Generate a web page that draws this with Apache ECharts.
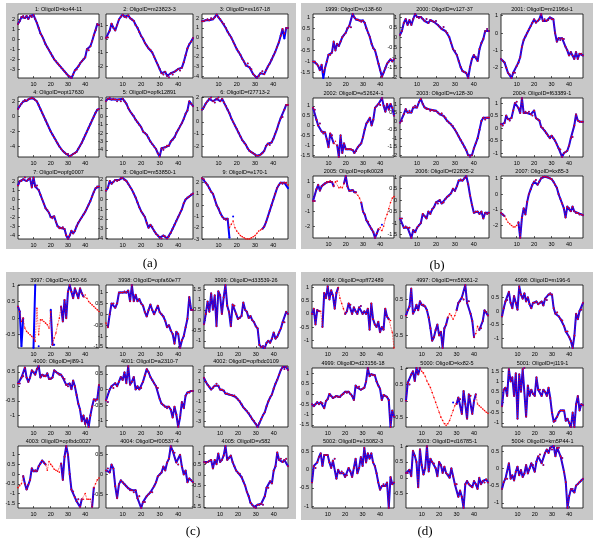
<!DOCTYPE html>
<html><head><meta charset="utf-8">
<script src="https://cdn.jsdelivr.net/npm/echarts@6/dist/echarts.min.js"></script>
<style>html,body{margin:0;padding:0;background:#fff}#c{width:600px;height:542px}</style>
</head><body><div id="c"></div>
<script>
// ---------- data ----------
const timePoints = [1,2,3,4,5,6,7,8,9,10,11,12,13,14,15,16,17,18,19,20,21,22,23,24,25,26,27,28,29,30,31,32,33,34,35,36,37,38,39,40,41,42,43,44,45,46,47,48];
const xTicks = [10,20,30,40];
const panelLabels = ['(a)','(b)','(c)','(d)'];

// panel (a)
const titlesA = ['1: OligoID=ko44-11','2: OligoID=m23823-3','3: OligoID=xs167-18','4: OligoID=opt17630','5: OligoID=opfk12891','6: OligoID=f27713-2','7: OligoID=opfg0007','8: OligoID=m53850-1','9: OligoID=e170-1'];
const a1 = [1.5,1.8,2.2,2.3,2.1,2.3,2.0,2.3,2.2,2.4, 2.0,1.6,1.1,0.6,0.3,-0.1,-0.5,-0.8,-1.1,-1.4, -1.7,-2.0,-2.2,-2.4,-2.6,-2.8,-3.0,-3.2,-3.4,-3.6, -3.7,-3.85,-3.5,-3.1,-3.0,-2.7,-2.4,-2.2,-2.0,-1.8, -1.0,-1.1,-0.7,-0.2,0.4,0.9,1.5,1.4];
const a2 = [0.05,0.1,0.6,1.1,0.8,0.6,1.0,1.4,1.6,1.75, 1.6,1.55,1.7,1.5,1.4,1.3,1.0,0.8,0.5,0.2, 0.0,-0.3,-0.5,-0.7,-0.8,-1.0,-1.3,-1.6,-1.9,-2.2, -2.5,-2.6,-2.4,-2.7,-2.8,-2.5,-2.6,-2.4,-2.3,-2.2, -2.3,-2.1,-1.7,-1.2,-0.7,-0.4,-0.2,0.05];
const a3 = [1.7,1.7,1.8,1.9,1.8,2.0,1.9,2.1,2.4,2.1, 1.9,1.6,1.4,1.0,0.6,0.3,0.0,-0.4,-0.8,-1.2, -1.5,-1.8,-2.2,-2.5,-2.9,-2.7,-3.1,-3.3,-3.8,-4.0, -4.2,-4.0,-3.7,-3.5,-3.8,-3.4,-3.0,-2.7,-2.3,-1.9, -1.5,-1.0,-0.5,0.2,0.9,0.4,1.0,1.0];
const a4 = [1.0,1.4,1.7,2.0,2.2,2.1,2.3,2.4,2.5,2.4, 2.2,2.0,1.5,1.0,0.5,0.0,-0.5,-1.0,-1.5,-2.0, -2.4,-2.8,-3.2,-3.6,-4.0,-4.3,-4.6,-4.8,-5.0,-5.0, -5.3,-5.2,-5.0,-4.9,-4.7,-4.3,-3.9,-3.5,-3.0,-2.5, -2.0,-1.5,-1.0,-0.5,0.0,0.5,0.9,1.0];
const a5 = [1.8,2.1,2.2,2.0,2.1,2.0,1.8,2.0,1.8,2.1, 1.8,1.5,1.0,0.6,0.3,0.0,-0.4,-0.7,-1.0,-1.3, -1.8,-2.0,-2.2,-2.6,-3.0,-3.3,-3.6,-3.9,-4.4,-4.8, -3.8,-4.0,-3.7,-3.5,-3.5,-3.0,-2.8,-2.5,-2.0,-1.6, -1.2,-0.8,-0.3,0.3,0.7,1.8,1.5,1.2];
const a6 = [1.0,1.2,1.5,1.7,1.9,2.0,1.7,1.6,1.9,2.0, 1.7,1.9,1.6,1.3,1.0,0.7,0.3,0.0,-0.3,-0.6, -0.9,-1.2,-1.5,-1.7,-1.9,-2.2,-2.4,-2.5,-2.6,-2.7, -2.8,-2.8,-2.7,-2.6,-2.4,-2.0,-1.8,-1.9,-1.7,-1.4, -1.0,-0.6,-0.1,0.3,0.4,1.0,1.4,1.4];
const a7 = [1.5,2.0,2.0,2.2,2.4,2.0,2.2,2.3,1.3,2.4, 1.4,1.5,1.0,0.5,0.0,-0.5,-1.0,-1.2,-1.5,-2.0, -2.1,-1.9,-2.5,-3.0,-3.2,-3.2,-3.1,-3.3,-4.0,-4.4, -4.0,-3.5,-3.8,-3.5,-3.0,-2.6,-2.3,-2.0,-1.7,-1.4, -1.0,-0.6,-0.2,0.3,0.8,1.2,1.4,1.4];
const a8 = [0.9,1.2,1.9,1.6,1.8,2.0,1.9,2.0,2.2,2.2, 2.0,1.9,1.6,1.3,1.0,0.6,0.2,-0.3,-0.8,-1.2, -1.5,-1.8,-2.4,-2.9,-2.6,-2.8,-3.2,-3.5,-3.7,-3.9, -4.0,-3.7,-3.8,-4.0,-3.8,-3.4,-3.0,-2.6,-2.2,-1.8, -1.4,-1.0,-0.4,0.0,0.2,0.3,0.5,0.6];
const a9 = [2.4,2.3,2.0,1.8,1.5,1.2,1.0,0.5,0.0,-0.3, -0.7,-1.0,-1.2,-1.3,-1.2,-2.0,-1.7,-1.4,-2.0,-2.3, -2.5,-2.7,-2.8,-2.9,-3.0,-3.0,-3.0,-2.9,-2.8,-2.7, -2.5,-2.3,-2.2,-2.1,-1.9,-1.5,-1.0,-0.5,0.0,0.5, 1.0,1.5,1.8,2.0,1.9,2.0,2.0,1.8];
const yRangeA = [[-3.85,2.5],[-2.85,1.8],[-4.2,2.45],[-5.4,2.6],[-4.85,2.3],[-2.9,2.05],[-4.4,2.45],[-4.05,2.3],[-3.0,2.5]];
const yTicksA = [[-3,-2,-1,0,1,2],[-2,-1,0,1],[-4,-3,-2,-1,0,1,2],[-4,-2,0,2],[-4,-3,-2,-1,0,1,2],[-2,-1,0,1,2],[-4,-3,-2,-1,0,1,2],[-4,-3,-2,-1,0,1,2],[-3,-2,-1,0,1,2]];
const gapsA = [[],[],[],[],[],[],[],[],[17,19,20,21,22,23,24,25,26,27,28,29,30,31,32,33]];
const blueFixA = [[],[],[[46,-0.1]],[],[],[],[],[],[[16,-2.9],[18,-1.0],[48,1.5]]];

// panel (b)
const titlesB = ['1999: OligoID=v138-60','2000: OligoID=v127-37','2001: OligoID=m2196d-1','2002: OligoID=e52624-1','2003: OligoID=v128-30','2004: OligoID=f63389-1','2005: OligoID=opfk0028','2006: OligoID=f22835-2','2007: OligoID=kx85-3'];
const b1 = [-1.0,-1.0,-1.1,-1.2,-1.4,-1.15,-1.5,-1.3,-1.0,-0.7, -0.7,-0.6,-0.1,-0.5,-0.2,-0.3,-0.1,0.1,0.2,0.3, 0.5,0.6,0.55,1.15,1.0,0.9,0.9,0.85,0.8,0.85, 0.75,0.5,0.3,0.1,-0.2,-0.4,-0.5,-0.8,-1.1,-1.4, -1.7,-1.5,-1.3,-1.1,-1.0,-0.9,-1.0,-0.9];
const b2 = [0.1,0.3,0.7,0.9,0.6,0.85,0.6,0.9,1.15,1.0, 0.95,1.0,0.9,0.8,0.9,0.7,0.85,0.8,0.75,0.8, 0.6,0.5,0.4,0.5,0.3,0.2,0.0,-0.3,-0.6,-0.7, -0.9,-1.2,-1.5,-1.7,-1.75,-1.8,-2.05,-1.5,-1.1,-0.9, -1.0,-1.2,-0.6,-0.3,-0.1,0.3,0.4,0.3];
const b3 = [-1.5,-1.6,-1.7,-2.0,-2.3,-2.4,-2.6,-2.3,-2.3,-1.9, -1.7,-1.4,-0.8,-0.4,-0.2,0.0,0.2,0.4,0.6,0.8, 0.6,0.7,0.8,1.1,0.7,0.8,0.7,0.75,0.9,0.8, 0.8,0.0,-0.5,-0.3,-0.4,-0.3,-0.35,-0.8,-1.0,-1.3, -1.1,-1.3,-1.5,-1.1,-1.5,-1.2,-1.2,-1.3];
const b4 = [0.9,0.8,0.3,0.0,0.1,-0.3,-0.4,-0.35,-0.7,-1.1, -0.4,-0.5,-0.9,-0.8,-1.0,-1.6,-0.5,-1.4,-0.9,-1.2, -1.2,-1.2,-1.2,-1.25,-1.4,-1.3,-1.1,-1.0,-0.9,-0.6, -0.2,0.1,0.2,0.4,0.0,0.3,0.9,1.0,1.1,1.05, 1.4,1.0,0.7,1.1,0.8,1.1,0.9,0.5];
const b5 = [-0.1,0.0,0.4,0.7,0.5,0.6,0.5,0.8,0.9,0.8, 1.1,1.3,1.0,0.8,0.7,0.7,0.6,0.65,0.6,0.6, 0.5,0.4,0.45,0.3,0.2,0.0,-0.1,-0.2,-0.3,-0.5, -0.7,-0.9,-1.1,-1.3,-1.5,-1.7,-2.0,-2.1,-2.0,-1.6, -1.3,-1.0,-0.5,0.0,0.2,0.1,0.2,0.2];
const b6 = [0.15,0.1,0.2,0.5,0.35,0.3,0.4,0.7,1.0,1.05, 0.8,0.6,1.2,0.6,0.65,0.6,0.65,0.55,0.5,0.7, 0.4,0.35,0.3,0.05,0.0,-0.1,-0.2,-0.3,-0.4,-0.3, -0.4,-0.5,-0.65,-0.8,-0.85,-1.15,-1.0,-0.95,-0.9,-0.7, -0.4,-0.35,0.1,0.55,0.3,0.25,0.25,0.25];
const b7 = [-0.3,-0.3,0.5,0.8,0.4,0.7,0.8,0.9,1.0,1.0, 1.05,1.0,0.7,1.0,1.05,0.6,0.65,0.6,0.9,1.4, 0.7,0.4,0.4,0.45,0.3,0.3,0.1,-0.1,-0.4,-1.0, -1.2,-1.6,-1.7,-2.0,-2.2,-2.4,-2.8,-2.5,-2.2,-2.1, -2.3,-2.0,-1.5,-1.2,-0.8,-0.4,-0.1,0.0];
const b8 = [-0.8,-0.8,-1.2,-1.15,-1.2,-1.2,-1.65,-1.3,-1.4,-1.2, -1.1,-1.0,-0.6,-0.7,-0.8,-0.5,-0.6,-0.4,-0.3,-0.1, -0.15,0.0,-0.15,-0.1,0.05,0.15,0.2,0.3,0.5,0.4, 0.6,0.85,0.9,0.85,0.95,1.05,0.7,0.2,-0.2,-0.55, -0.5,-0.5,-0.6,-0.5,-0.8,-0.55,-0.6,-0.55];
const b9 = [-1.2,-1.3,-1.4,-1.6,-1.8,-1.9,-2.0,-2.1,-2.1,-2.0, -1.8,-2.8,-1.5,-0.9,-1.3,-0.5,0.0,0.3,0.6,0.8, 0.9,0.6,0.8,1.0,1.1,1.1,1.1,1.05,1.0,0.95, 0.8,0.6,0.4,0.0,-0.3,-0.6,-0.9,-1.5,-0.8,-0.9, -1.1,-0.8,-1.1,-1.2,-1.2,-1.3,-1.3,-1.35];
const yRangeB = [[-1.75,1.15],[-2.05,1.15],[-2.6,1.1],[-1.6,1.4],[-2.1,1.35],[-1.15,1.2],[-2.8,1.4],[-1.65,1.05],[-2.8,1.15]];
const yTicksB = [[-1.5,-1,-0.5,0,0.5,1],[-2,-1.5,-1,-0.5,0,0.5,1],[-2,-1,0,1],[-1.5,-1,-0.5,0,0.5,1],[-2,-1.5,-1,-0.5,0,0.5,1],[-1,-0.5,0,0.5,1],[-2,-1,0,1],[-1.5,-1,-0.5,0,0.5,1],[-2,-1,0,1]];
const gapsB = [[],[],[],[14],[],[],[14,15,16,17,18,27,28,40,42,43,44,45,46,47,48],[],[4,5,6,7,8,9,10]];
const blueFixB = [[[7,-1.75]],[],[],[],[],[],[[41,-1.9]],[],[]];

// panel (c)
const titlesC = ['3997: OligoID=v150-66','3998: OligoID=opfa60e77','3999: OligoID=d33539-26','4000: OligoID=jl89-1','4001: OligoID=a2310-7','4002: OligoID=opfbdc0109','4003: OligoID=opfbdc0027','4004: OligoID=f00537-4','4005: OligoID=v582'];
const c1 = [0.35,0.2,-0.1,0.0,-0.3,-0.4,-0.45,-0.5,-0.55,-0.6, -0.7,0.3,-0.5,-0.05,-0.05,-0.1,-0.15,-0.2,-0.3,0.2, -0.8,-0.6,-0.45,-0.2,0.0,0.35,-0.1,0.55,0.0,0.8, 1.0,0.8,0.6,0.9,0.75,0.6,0.9,0.75,0.65,0.7, 0.6,0.5,0.45,0.4,0.35,0.3,0.25,0.2];
const c2 = [-0.4,-0.6,0.0,0.5,0.5,0.3,0.5,1.0,1.0,1.0, 1.05,1.0,1.1,0.6,1.35,0.6,0.9,0.6,0.7,0.5, 0.4,0.1,-0.1,0.2,0.45,0.2,0.0,0.2,0.4,0.1, 0.0,-0.1,-0.3,-0.6,-0.5,-0.75,-0.9,-1.35,-0.8,-0.9, -1.55,-1.2,-1.0,-0.6,-0.2,0.8,0.2,0.2];
const c3 = [-0.2,0.3,0.9,0.4,1.3,0.5,1.2,-0.3,1.4,1.2, 0.3,1.1,1.7,0.7,0.4,-0.3,0.75,0.7,0.3,0.05, 0.1,0.2,0.85,0.5,0.4,0.1,0.2,0.0,-0.1,-0.3, -0.4,-1.2,-1.3,-1.25,-1.35,-1.1,-1.0,-1.1,-0.9,-0.6, -0.9,-0.8,-0.6,-0.4,-0.1,-0.1,0.4,0.3];
const c4 = [0.1,0.1,0.3,0.35,0.65,0.3,0.15,0.3,0.55,0.5, 0.4,0.6,0.7,0.3,0.4,0.35,0.35,0.45,0.25,0.25, 0.3,0.55,0.5,0.45,0.4,0.4,0.3,0.25,0.05,0.0, 0.1,-0.1,0.2,0.0,-0.3,-0.6,-0.8,-1.2,-1.0,-1.3, -1.1,-1.4,-1.0,-0.7,-0.45,-0.5,-0.45,0.05];
const c5 = [-0.35,-0.4,0.0,0.1,0.05,0.2,0.1,0.25,0.4,0.3, 0.55,0.2,0.75,0.15,0.25,0.4,0.0,0.1,0.0,0.05, 0.25,0.45,0.65,0.55,0.4,0.3,0.2,0.1,0.05,-0.3, -0.45,-0.5,-0.55,-0.6,-0.55,-0.65,-0.9,-0.55,-0.8,-1.2, -0.9,-0.4,-0.6,-0.2,-0.1,-0.1,-0.05,-0.05];
const c6 = [1.4,1.0,0.7,0.5,0.2,0.4,0.6,0.8,0.6,0.2, 0.2,0.1,-0.2,-0.2,-0.3,-0.35,-0.4,-0.4,-0.6,-0.8, -1.0,-1.3,-1.6,-1.8,-2.0,-2.2,-2.5,-2.8,-3.0,-3.3, -3.6,-3.2,-2.8,-2.4,-2.1,-1.5,-1.0,-0.6,-0.3,0.3, 0.8,1.2,1.7,2.2,2.5,2.3,2.5,2.2];
const c7 = [-0.7,-0.6,-0.5,-0.1,-0.5,-0.8,-0.55,-0.3,0.3,0.15, 0.2,0.15,0.4,0.55,0.7,0.6,0.5,0.2,0.65,0.5, 0.4,0.25,0.2,0.15,0.1,0.55,-0.3,0.9,1.45,1.0, 0.0,-0.8,-0.9,-1.2,-1.4,-1.3,-1.7,-1.3,-1.3,-1.0, -1.3,-1.3,-1.3,-1.7,-0.7,-0.5,-0.3,-0.2];
const c8 = [0.1,0.15,0.05,0.25,0.15,-0.3,-0.6,-0.25,-0.15,-0.2, -0.25,-0.3,-0.35,-0.4,-0.4,-0.45,-0.4,-0.6,-0.55,-0.85, -0.7,-0.7,-0.55,-0.5,-0.45,-0.45,-0.3,-0.2,-0.05,0.0, 0.05,0.2,0.1,0.3,0.4,0.72,0.6,0.55,0.3,0.25, 0.5,0.2,0.0,0.1,-0.2,-0.1,-0.15,-0.2];
const c9 = [0.6,0.55,0.6,0.65,0.7,0.3,0.7,0.5,1.0,0.6, 0.7,0.9,1.35,0.7,0.8,0.9,0.6,0.4,0.2,0.1, 0.05,-0.1,-0.3,-0.5,-0.8,-1.0,-1.3,-1.4,-1.5,-1.55, -1.4,-1.4,-1.35,-1.4,-1.0,-0.6,-0.6,-0.3,-0.4,0.2, 0.4,1.05,0.7,0.75,0.6,0.7,0.75,0.4];
const yRangeC = [[-0.9,1.0],[-1.55,1.35],[-1.35,1.7],[-1.4,0.7],[-1.2,0.75],[-3.6,2.6],[-1.75,1.45],[-0.85,0.72],[-1.55,1.35]];
const yTicksC = [[-0.5,0,0.5,1],[-1.5,-1,-0.5,0,0.5,1],[-1,-0.5,0,0.5,1,1.5],[-1,-0.5,0,0.5],[-1,-0.5,0,0.5],[-3,-2,-1,0,1,2],[-1.5,-1,-0.5,0,0.5,1],[-0.5,0,0.5],[-1.5,-1,-0.5,0,0.5,1]];
const gapsC = [[5,6,7,8,9,12,14,15,16,17,18,19,23,24,25,40,41,42,43,44,45,46,47,48],[1],[],[],[],[],[1,2,3,18,19,20,21,22,23,24,25,39,40,41,42,43,46,47,48],[],[]];
const blueFixC = [[[3,-0.85],[10,-0.9],[11,1.0],[13,-0.85],[20,0.25],[22,-0.8]],[],[],[],[],[],[],[],[]];

// panel (d)
const titlesD = ['4996: OligoID=opff72489','4997: OligoID=m58361-2','4998: OligoID=m196-6','4999: OligoID=d23156-18','5000: OligoID=kx82-5','5001: OligoID=j119-1','5002: OligoID=e15082-3','5003: OligoID=d16785-1','5004: OligoID=km5P44-1'];
const d1 = [0.0,0.2,-0.4,0.15,0.1,0.1,-0.5,0.8,0.6,1.05, 0.55,0.9,0.7,0.2,0.8,1.0,0.6,0.4,0.2,0.0, 0.1,0.4,0.35,0.0,0.25,0.1,0.0,0.25,0.3,0.0, 0.1,0.0,0.2,-0.6,0.4,-0.2,-0.4,-0.5,-0.3,-0.7, -0.5,-0.6,0.2,-0.1,-0.2,-0.25,-0.7,-1.3];
const d2 = [0.05,0.2,0.3,0.8,0.1,0.2,0.35,0.2,0.45,0.35, 0.35,0.3,0.2,0.0,-0.3,-0.65,-0.55,-0.35,-0.2,-0.5, -0.4,-0.85,-0.3,-0.2,0.0,0.1,0.05,-0.05,0.05,0.2, 0.4,0.45,0.55,0.5,0.9,0.4,0.45,0.1,-0.1,-0.55, -0.45,-0.25,-0.35,-0.3,-0.1,0.2,0.15,0.05];
const d3 = [-0.2,0.1,0.35,0.4,0.7,0.3,0.1,0.55,0.3,0.05, 0.9,0.6,0.45,0.65,0.35,0.5,0.25,0.1,0.3,0.3, 0.35,0.25,0.3,0.35,0.2,0.45,0.4,0.6,0.65,0.6, 0.1,-0.1,-0.05,-0.2,-0.3,-0.35,-0.55,-0.75,-0.75,-0.95, -1.1,-1.35,-0.9,-0.1,-0.3,0.0,0.05,0.3];
const d4 = [-0.5,-0.6,-0.5,-0.4,-0.5,-0.4,-0.45,-0.7,-0.35,-0.25, 0.0,-0.1,-0.2,-0.15,-0.1,-0.15,-0.15,-0.05,0.0,0.1, 0.05,0.1,0.0,-0.1,-0.3,0.4,0.3,0.35,0.2,0.25, 0.3,0.6,1.25,0.85,0.95,0.9,0.9,0.6,0.4,0.25, -0.3,-0.05,-0.1,-0.15,-0.3,-1.6,-0.8,-1.1];
const d5 = [0.0,0.55,0.5,0.8,0.9,0.6,1.0,0.8,1.0,0.9, 0.85,0.75,0.6,0.5,0.4,0.25,0.1,-0.05,-0.2,-0.35, -0.5,-0.6,-0.7,-0.75,-0.7,-0.6,-0.45,-0.3,-0.15,-0.1, 0.1,0.05,-0.4,0.3,-0.1,-0.55,0.2,0.15,-0.4,0.0, 0.2,-0.1,-0.15,-0.2,-0.25,-0.3,-0.35,-0.38];
const d6 = [-0.2,0.6,0.7,0.3,1.6,1.0,1.2,0.3,1.4,-0.8, 1.35,0.5,1.6,1.65,-0.7,0.8,0.3,0.6,0.4,0.3, 1.2,0.6,0.6,0.3,0.6,0.5,0.3,0.7,0.2,-0.5, -0.95,-0.9,-0.7,-0.5,-0.4,-0.4,-0.4,-0.9,-0.8,-1.0, -1.2,-0.5,-1.2,-0.1,0.3,-0.4,-0.1,-0.15];
const d7 = [-0.35,0.1,0.05,0.2,0.35,0.45,0.1,0.4,0.4,0.4, 0.2,0.05,0.25,0.3,-0.25,0.0,-0.1,-0.05,-0.1,-0.2, -0.15,0.05,-0.05,-0.2,0.05,0.3,-0.1,0.05,0.35,0.1, 0.6,0.2,0.45,0.3,0.45,0.2,0.1,-0.1,-0.35,-0.55, -0.45,-0.4,-0.45,-0.35,-1.05,-0.2,-0.4,-0.35];
const d8 = [0.15,0.15,0.25,0.05,0.85,0.7,0.5,-0.3,0.9,0.4, 0.1,0.3,1.0,0.2,0.6,0.5,0.45,0.3,0.05,0.5, 0.4,0.15,0.35,0.15,0.1,0.0,0.3,0.05,-0.2,-0.2, -0.6,-0.4,-0.6,-0.95,-0.2,-0.1,-0.2,-0.25,-0.3,-0.1, -0.2,-0.35,0.0,-0.2,-0.1,-0.15,-0.05,-0.15];
const d9 = [-0.6,-0.4,-0.3,-0.3,0.15,-0.3,-0.2,-0.35,-0.1,0.05, -0.2,-0.05,-0.25,-0.15,0.1,-0.15,0.0,0.15,0.1,-0.1, 0.2,0.35,0.4,0.15,0.1,0.45,0.55,0.45,0.6,0.55, 0.65,0.35,0.6,0.6,0.35,0.3,-0.1,-0.4,-1.15,-0.8, -0.6,-0.6,-0.7,-0.5,-0.45,-0.4,-0.35,-0.3];
const yRangeD = [[-1.3,1.1],[-0.85,0.9],[-1.35,0.95],[-1.6,1.25],[-0.8,1.0],[-1.2,1.65],[-1.05,0.65],[-0.95,1.0],[-1.15,0.65]];
const yTicksD = [[-1,-0.5,0,0.5,1],[-0.5,0,0.5],[-1,-0.5,0,0.5],[-1.5,-1,-0.5,0,0.5,1],[-0.5,0,0.5,1],[-1,-0.5,0,0.5,1,1.5],[-1,-0.5,0,0.5],[-0.5,0,0.5,1],[-1,-0.5,0,0.5]];
const gapsD = [[6,17,18,19,46,47,48],[26,27,28,29,41,42],[],[],[10,11,12,13,14,15,16,17,18,19,20,21,22,23,24,25,26,27,29,42,43,44,45,46,47,48],[],[],[],[]];
const blueFixD = [[],[],[],[],[[28,-0.05]],[],[],[],[]];

// ---------- layout ----------
const panels = [
  {est:[a1,a2,a3,a4,a5,a6,a7,a8,a9], titles:titlesA, yr:yRangeA, yt:yTicksA, gaps:gapsA, fix:blueFixA,
   lefts:[18,106,202], widths:[81,87,86], tops:[14,97,177], heights:[64,60,62],
   box:[6,3,290,246], label:[150,264]},
  {est:[b1,b2,b3,b4,b5,b6,b7,b8,b9], titles:titlesB, yr:yRangeB, yt:yTicksB, gaps:gapsB, fix:blueFixB,
   lefts:[313,400,501], widths:[81,89,82], tops:[14,98,176], heights:[64,59,62],
   box:[301,3,292,246], label:[437,266]},
  {est:[c1,c2,c3,c4,c5,c6,c7,c8,c9], titles:titlesC, yr:yRangeC, yt:yTicksC, gaps:gapsC, fix:blueFixC,
   lefts:[18,106,204], widths:[81,87,84], tops:[285,366,446], heights:[63,61,62],
   box:[6,272,290,247], label:[193,532]},
  {est:[d1,d2,d3,d4,d5,d6,d7,d8,d9], titles:titlesD, yr:yRangeD, yt:yTicksD, gaps:gapsD, fix:blueFixD,
   lefts:[312,406,502], widths:[82,82,81], tops:[285,368,446], heights:[63,59,62],
   box:[301,272,292,248], label:[425,532]}
];

const grids=[], xAxes=[], yAxes=[], series=[], graphics=[];
const FONT = 'Liberation Sans';
let k = 0;
panels.forEach((p, pi) => {
  graphics.push({type:'rect', z:-10, silent:true, shape:{x:p.box[0], y:p.box[1], width:p.box[2], height:p.box[3]}, style:{fill:'#c8c8c8'}});
  graphics.push({type:'text', silent:true, x:p.label[0], y:p.label[1], style:{text:panelLabels[pi], fill:'#000', font:'13px "Liberation Serif"', textAlign:'center', textVerticalAlign:'middle'}});
  for (let i = 0; i < 9; i++) {
    const r = Math.floor(i/3), c = i%3;
    const left = p.lefts[c], top = p.tops[r], w = p.widths[c], h = p.heights[r];
    grids.push({left:left, top:top, width:w, height:h, show:true, backgroundColor:'#fff', borderColor:'#000', borderWidth:0.8, containLabel:false});
    graphics.push({type:'text', silent:true, x:left + w/2, y:top - 4.5, style:{text:p.titles[i], fill:'#000', font:'5.5px "'+FONT+'"', textAlign:'center', textVerticalAlign:'middle'}});
    xAxes.push({gridIndex:k, type:'value', min:1, max:48, position:'bottom',
      axisLine:{show:false, onZero:false}, splitLine:{show:false},
      axisTick:{show:true, inside:true, length:2, lineStyle:{color:'#000', width:0.6}, customValues:xTicks},
      axisLabel:{customValues:xTicks, fontSize:5.5, color:'#000', margin:3, fontFamily:FONT}});
    yAxes.push({gridIndex:k, type:'value', min:p.yr[i][0], max:p.yr[i][1], position:'left',
      axisLine:{show:false, onZero:false}, splitLine:{show:false},
      axisTick:{show:true, inside:true, length:2, lineStyle:{color:'#000', width:0.6}, customValues:p.yt[i]},
      axisLabel:{customValues:p.yt[i], fontSize:5.5, color:'#000', margin:3, fontFamily:FONT, formatter:v=>String(v)}});
    const est = p.est[i];
    const gapSet = new Set(p.gaps[i]);
    const fixMap = new Map(p.fix[i]);
    const obs = timePoints.map((t, j) => {
      if (fixMap.has(t)) return [t, fixMap.get(t)];
      return gapSet.has(t) ? [t, null] : [t, est[j]];
    });
    series.push({type:'line', xAxisIndex:k, yAxisIndex:k, data:obs, z:2, connectNulls:false,
      symbol:'circle', symbolSize:2, showSymbol:true, itemStyle:{color:'#0000ff'},
      lineStyle:{color:'#0000ff', width:2}, animation:false, silent:true});
    series.push({type:'line', xAxisIndex:k, yAxisIndex:k, data:timePoints.map((t,j)=>[t, est[j]]), z:3,
      symbol:'circle', symbolSize:1.6, showSymbol:true, itemStyle:{color:'#ff0000'},
      lineStyle:{color:'#ff0000', width:0.8, type:'dotted'}, animation:false, silent:true});
    k++;
  }
});

const chart = echarts.init(document.getElementById('c'), null, {renderer:'canvas'});
chart.setOption({animation:false, backgroundColor:'#fff', grid:grids, xAxis:xAxes, yAxis:yAxes, series:series, graphic:graphics});
</script>
</body></html>
